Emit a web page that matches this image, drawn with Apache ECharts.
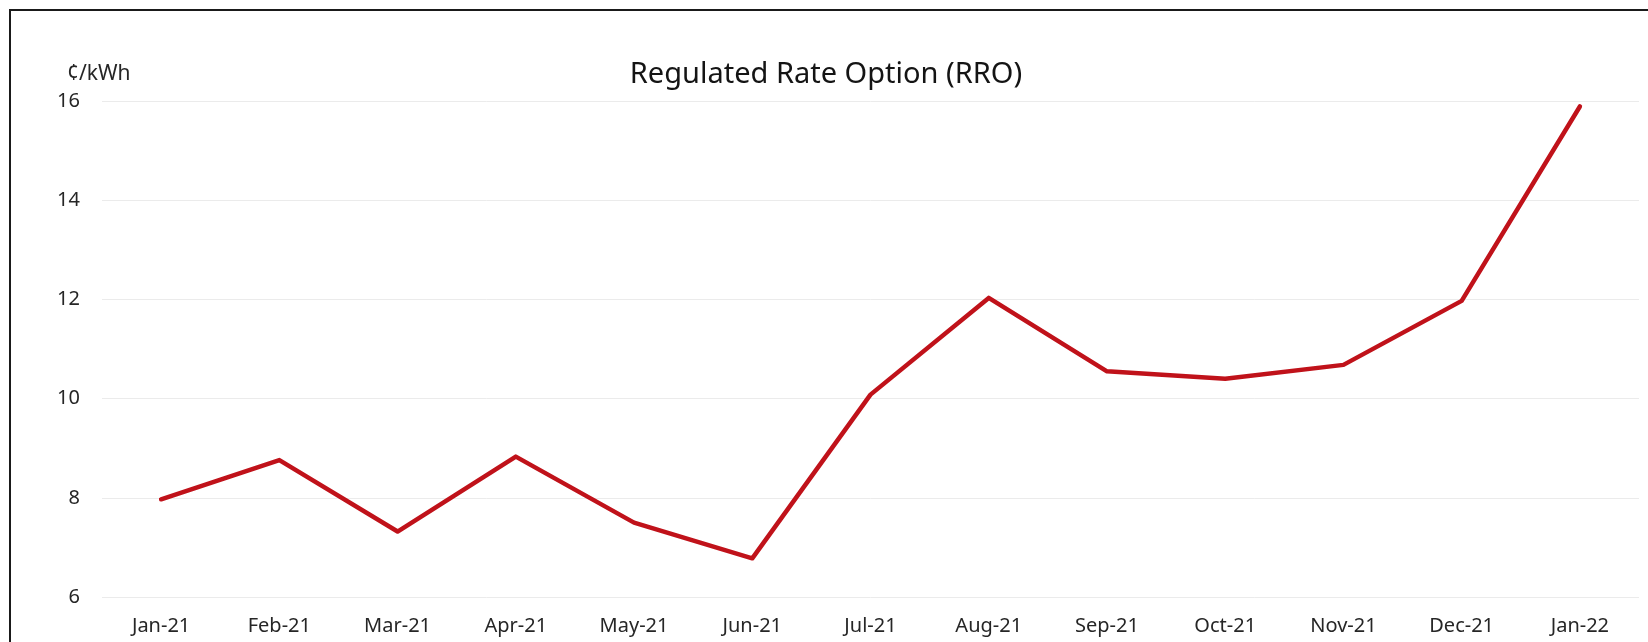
<!DOCTYPE html>
<html>
<head>
<meta charset="utf-8">
<script src="https://cdn.jsdelivr.net/npm/echarts@6/dist/echarts.min.js"></script>
<style>
html,body{margin:0;padding:0;background:#fff;}
#c{width:1648px;height:642px;}
</style>
</head>
<body>
<div id="c"></div>
<script>
const categories = ['Jan-21','Feb-21','Mar-21','Apr-21','May-21','Jun-21','Jul-21','Aug-21','Sep-21','Oct-21','Nov-21','Dec-21','Jan-22'];
const rroValues = [7.97, 8.76, 7.32, 8.83, 7.50, 6.78, 10.08, 12.03, 10.55, 10.40, 10.68, 11.97, 15.89];
const yTicks = [6, 8, 10, 12, 14, 16];
const chartTitle = 'Regulated Rate Option (RRO)';
const unitLabel = '¢/kWh';

const chart = echarts.init(document.getElementById('c'));
const font = '"Noto Sans", "Open Sans", sans-serif';
chart.setOption({
  animation: false,
  backgroundColor: '#ffffff',
  grid: { left: 102, right: 9, top: 101, bottom: 45 },
  graphic: [
    { type: 'rect', shape: { x: 10, y: 10, width: 1680, height: 700 }, style: { fill: 'none', stroke: '#1a1a1a', lineWidth: 2 }, silent: true },
    { type: 'text', x: 826, y: 75, style: { text: chartTitle, fill: '#141414', font: '29px ' + font, textAlign: 'center', textVerticalAlign: 'middle' } },
    { type: 'text', x: 67, y: 74, style: { text: unitLabel, fill: '#262626', font: '21px ' + font, textAlign: 'left', textVerticalAlign: 'middle' } }
  ],
  xAxis: {
    type: 'category',
    data: categories,
    boundaryGap: true,
    axisLine: { show: false },
    axisTick: { show: false },
    axisLabel: { color: '#262626', fontFamily: font, fontSize: 20, margin: 19 }
  },
  yAxis: {
    type: 'value',
    min: yTicks[0],
    max: yTicks[yTicks.length - 1],
    interval: 2,
    axisLine: { show: false },
    axisTick: { show: false },
    axisLabel: { color: '#262626', fontFamily: font, fontSize: 20, margin: 22 },
    splitLine: { lineStyle: { color: '#ebebeb', width: 1 } }
  },
  series: [{
    type: 'line',
    data: rroValues,
    symbol: 'none',
    lineStyle: { color: '#c0121a', width: 4.5, join: 'round', cap: 'round' }
  }]
});
</script>
</body>
</html>
